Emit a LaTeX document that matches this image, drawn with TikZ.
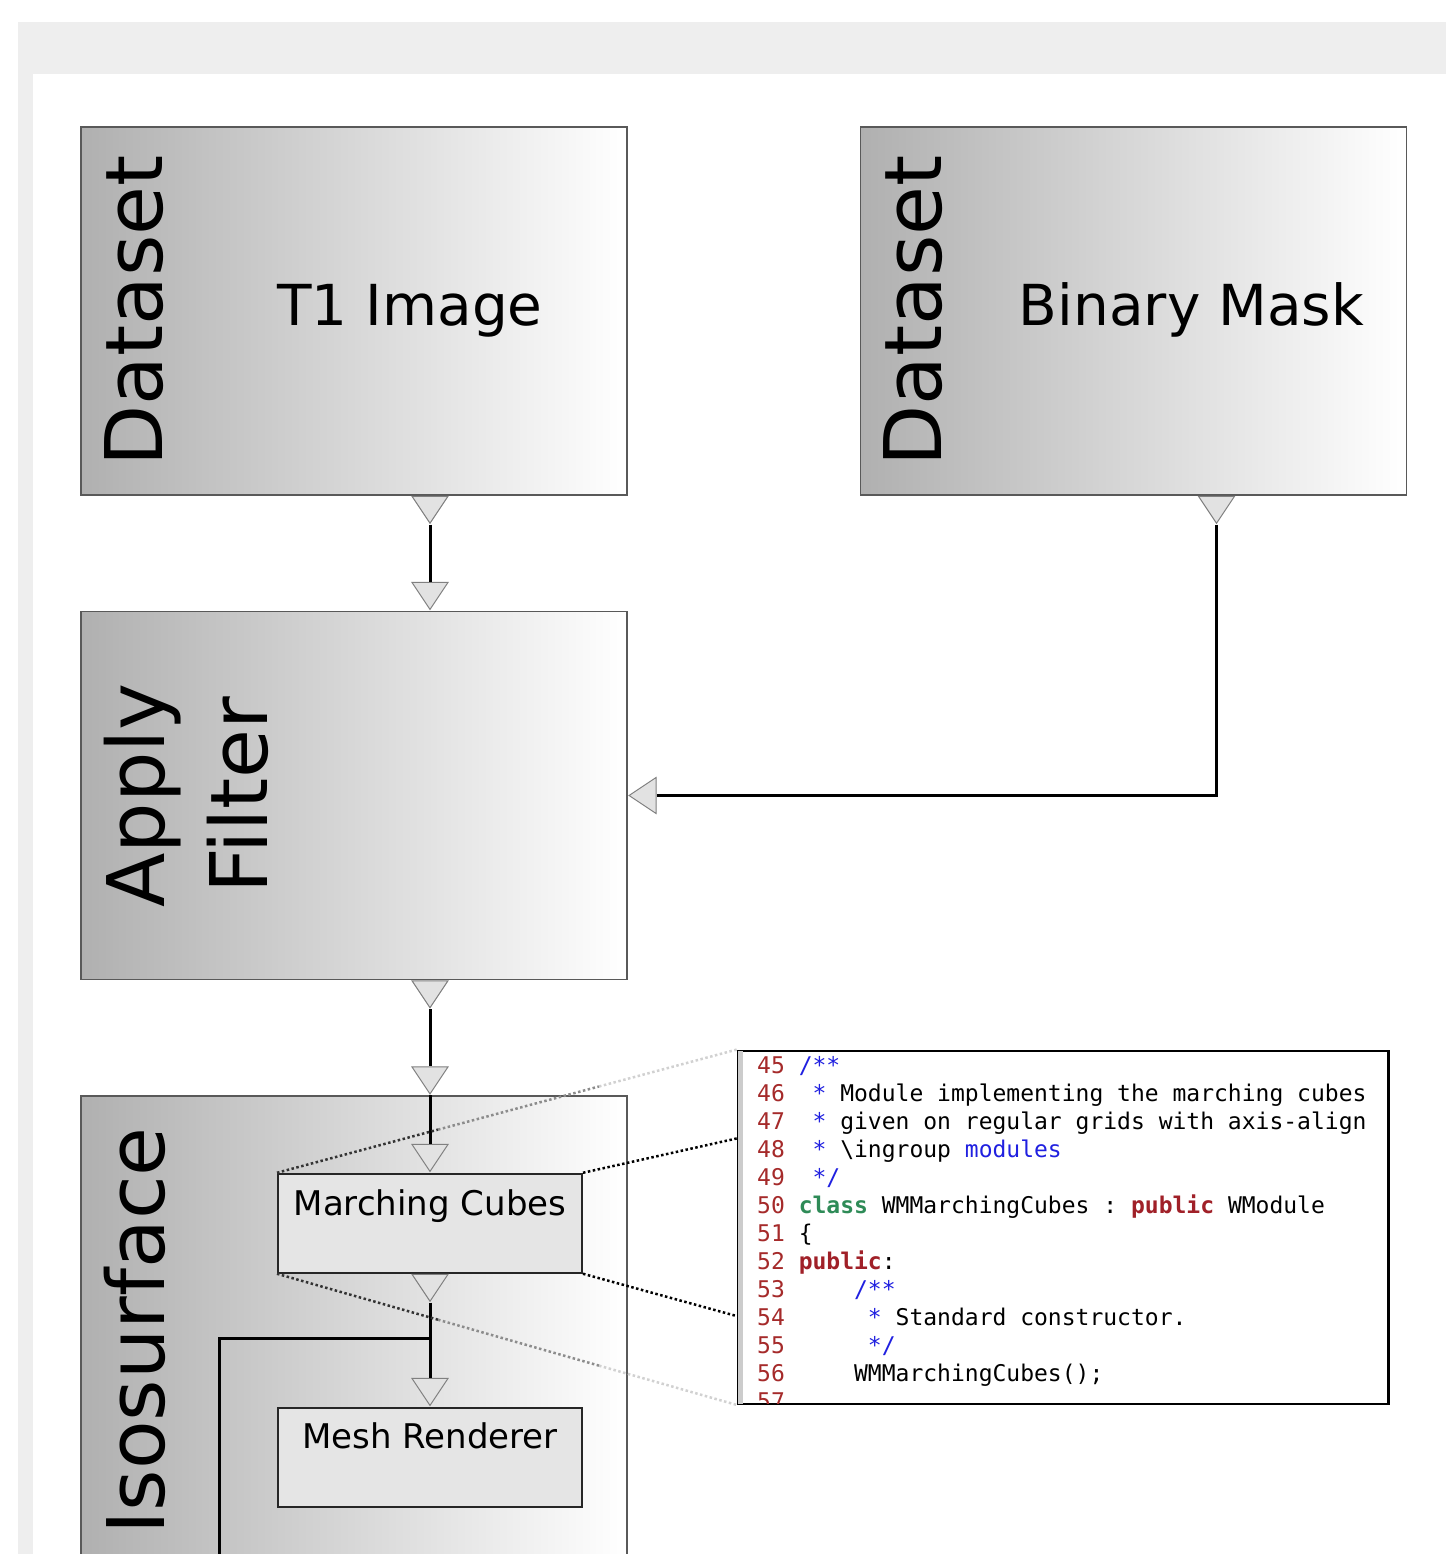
\documentclass[tikz,border=0pt]{standalone}
\usepackage{fontspec}
\setmainfont{DejaVu Sans}
\setmonofont{DejaVu Sans Mono}
\usepackage{xcolor}
\usepackage{tikz}
\usetikzlibrary{shapes.geometric, positioning, calc}
\definecolor{frame}{RGB}{238,238,238}
\definecolor{shade}{RGB}{176,176,176}
\definecolor{portfill}{RGB}{226,226,226}
\definecolor{portline}{RGB}{128,128,128}
\definecolor{lnum}{RGB}{165,42,42}
\definecolor{cmt}{RGB}{32,32,224}
\definecolor{kwgreen}{RGB}{46,139,87}
\definecolor{kwred}{RGB}{160,32,40}
\newcommand\lno[1]{{\color{lnum}#1}}
\newcommand\codeind[1]{\hspace*{#1\fontcharwd\font`0}}

\begin{document}
\begin{tikzpicture}[
    x=1pt, y=1pt,
    stage/.style={rectangle, draw=black!65, line width=1.5pt, left color=shade, right color=white, minimum width=546pt, minimum height=368pt, inner sep=0pt},
    procbox/.style={rectangle, draw=black!85, line width=2pt, fill=black!10, minimum width=304pt, minimum height=99pt, inner sep=0pt},
    sidelabel/.style={rotate=90, anchor=north, inner sep=0pt, align=center, font=\fontsize{79.5}{103}\selectfont},
    title/.style={anchor=base, inner sep=0pt, font=\fontsize{56.5}{67}\selectfont},
    proclabel/.style={anchor=base, inner sep=0pt, font=\fontsize{34}{40}\selectfont},
    port/.style={isosceles triangle, isosceles triangle stretches, minimum width=36pt, minimum height=27pt, inner sep=0pt, draw=portline, fill=portfill, line width=1pt},
    inport/.style={port, shape border rotate=270, anchor=apex},
    outport/.style={port, shape border rotate=270, anchor=lower side},
    sideport/.style={port, shape border rotate=180, anchor=apex},
    wire/.style={line width=3pt},
    zoomline/.style={line width=2.5pt, dash pattern=on 2.5pt off 2.5pt},
    codebox/.style={rectangle, draw=black, line width=2.5pt, fill=white, minimum width=650pt, minimum height=353pt, inner sep=0pt},
    listing/.style={inner sep=0pt, align=left, font=\ttfamily\fontsize{23}{28}\selectfont}
]
\useasboundingbox (0,0) rectangle (1446,-1554);
\clip (0,0) rectangle (1446,-1554);

% page frame
\fill[frame] (18,-22) rectangle (1446,-1554);
\fill[white] (33,-74) rectangle (1446,-1554);

% modules
\node[stage] (t1) at (354,-311) {};
\node[stage, right=232pt of t1] (bm) {};
\node[stage, below=115pt of t1] (af) {};
\node[stage, below=115pt of af, minimum height=470pt] (iso) {};

\node[sidelabel] (t1side) at ([xshift=24pt]t1.west) {Dataset};
\node[title] (t1name) at ([xshift=56pt,yshift=-14pt]t1.center) {T1 Image};
\node[sidelabel] (bmside) at ([xshift=24pt]bm.west) {Dataset};
\node[title] (bmname) at ([xshift=58pt,yshift=-14pt]bm.center) {Binary Mask};
\node[sidelabel] (afside) at ([xshift=24pt]af.west) {Apply\\Filter};
\node[sidelabel] (isoside) at ([xshift=24pt]iso.west) {Isosurface};

% inner modules
\node[procbox, below=77.5pt of iso.north, xshift=76pt] (mc) {};
\node[procbox, below=133pt of mc] (mr) {};
\node[proclabel] (mcname) at ([yshift=-43pt]mc.north) {Marching Cubes};
\node[proclabel] (mrname) at ([yshift=-42pt]mr.north) {Mesh Renderer};

% ports
\node[outport] (t1out) at ([xshift=76pt]t1.south) {};
\node[inport] (afin) at ([xshift=76pt]af.north) {};
\node[outport] (bmout) at ([xshift=83pt]bm.south) {};
\node[sideport] (afmask) at (af.east) {};
\node[outport] (afout) at ([xshift=76pt]af.south) {};
\node[inport] (isoin) at ([xshift=76pt]iso.north) {};
\node[inport] (mcin) at (mc.north) {};
\node[outport] (mcout) at (mc.south) {};
\node[inport] (mrin) at (mr.north) {};

% connections
\draw[wire] (t1out.apex) -- (afin.lower side);
\draw[wire] (bmout.apex) |- (afmask.lower side);
\draw[wire] (afout.apex) -- (isoin.lower side);
\draw[wire] (isoin.apex) -- (mcin.lower side);
\draw[wire] (mcout.apex) -- (mrin.lower side);
\coordinate (split) at ([yshift=-36pt]mcout.apex);
\coordinate (offpage) at ([xshift=139pt,yshift=-20pt]iso.south west);
\draw[wire] (split) -| (offpage);

% source view
\node[codebox, right=154pt of mc, yshift=-4pt] (code) {};
\fill[black!20] ([xshift=1.25pt,yshift=-1.25pt]code.north west) rectangle ([xshift=6pt,yshift=1.25pt]code.south west);
\begin{scope}
\clip ([xshift=6pt,yshift=-1.25pt]code.north west) rectangle ([xshift=-24pt,yshift=1.25pt]code.south east);
\node[listing, anchor=north west] (src) at ([xshift=20pt,yshift=-7pt]code.north west) {%
\lno{45}\ {\color{cmt}/**}\\
\lno{46}\codeind{2}{\color{cmt}*}\ Module implementing the marching cubes\\
\lno{47}\codeind{2}{\color{cmt}*}\ given on regular grids with axis-align\\
\lno{48}\codeind{2}{\color{cmt}*}\ \textbackslash ingroup {\color{cmt}modules}\\
\lno{49}\codeind{2}{\color{cmt}*/}\\
\lno{50}\ {\bfseries\color{kwgreen}class}\ WMMarchingCubes : {\bfseries\color{kwred}public}\ WModule\\
\lno{51}\ \{\\
\lno{52}\ {\bfseries\color{kwred}public}:\\
\lno{53}\codeind{5}{\color{cmt}/**}\\
\lno{54}\codeind{6}{\color{cmt}*}\ Standard constructor.\\
\lno{55}\codeind{6}{\color{cmt}*/}\\
\lno{56}\codeind{5}WMMarchingCubes();\\
\lno{57}};
\end{scope}

% zoom lines
\foreach \a/\b/\c in {0/0.35/80, 0.35/0.7/45, 0.7/1/18} {
  \draw[zoomline, black!\c] ($(mc.north west)!\a!(code.north west)$) -- ($(mc.north west)!\b!(code.north west)$);
  \draw[zoomline, black!\c] ($(mc.south west)!\a!(code.south west)$) -- ($(mc.south west)!\b!(code.south west)$);
}
\draw[zoomline] (mc.north east) -- ($(code.north west)!0.25!(code.south west)$);
\draw[zoomline] (mc.south east) -- ($(code.north west)!0.75!(code.south west)$);

\end{tikzpicture}
\end{document}
